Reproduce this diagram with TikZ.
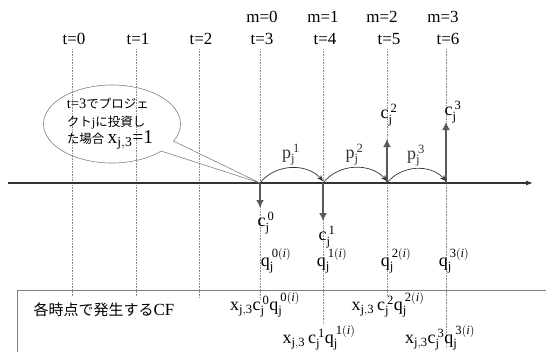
\documentclass[tikz,border=0pt]{standalone}
\usepackage{fontspec}
\setmainfont{LiberationSerif}[Extension=.ttf, UprightFont=*-Regular,
  ItalicFont=*-Italic, BoldFont=*-Bold, BoldItalicFont=*-BoldItalic]
\newfontfamily\jpfont{Noto Sans CJK JP}
\usetikzlibrary{positioning, arrows.meta, shapes.callouts}

\begin{document}
\begin{tikzpicture}[x=1pt, y=-1pt,
  lbl/.style={font=\fontsize{17}{19}\selectfont, inner sep=0pt},
  sym/.style={font=\fontsize{18}{20}\selectfont, inner sep=0pt},
  jp/.style={font=\fontsize{15}{17}\selectfont\jpfont, inner sep=0pt},
  guide/.style={densely dotted, black!45, line width=0.6pt},
  axis/.style={-{Latex[length=7pt, width=5pt]}, line width=1.1pt, black!80},
  flow/.style={-{Latex[length=8pt, width=8pt]}, line width=2.6pt, black!65},
  hop/.style={-{Stealth[length=6pt, width=5pt]}, line width=0.7pt, black!80, bend left=50},
  bubble/.style={ellipse callout, draw=black!50, line width=0.6pt,
    minimum width=137pt, minimum height=78pt, callout pointer arc=18}]

  \useasboundingbox (0,0) rectangle (546,351);

  % CF frame, cut by the page edge
  \begin{scope}
    \clip (0,0) rectangle (546,351);
    \draw[black!50, line width=1pt] (17,290) rectangle (560,370);
  \end{scope}

  % time points
  \coordinate (start) at (8,183);
  \coordinate (end) at (533,183);
  \foreach \i/\x/\yb in {0/72/297, 1/136/297, 2/199/298, 3/260/300,
                         4/323/323, 5/387/296, 6/446/347} {
    \coordinate (a\i) at (\x,183);
    \coordinate (top\i) at (\x,49);
    \coordinate (bot\i) at (\x,\yb);
    \node[lbl] (t\i) at (\x+2,39) {t=\i};
    \draw[guide] (top\i) -- (bot\i);
  }
  \foreach \m/\x in {0/262, 1/323, 2/382, 3/443}
    \node[lbl] (m\m) at (\x,17) {m=\m};

  \draw[axis] (start) -- (end);

  % cash flows
  \coordinate (d3) at (260,208);
  \coordinate (d4) at (323,221);
  \coordinate (u5) at (387,139);
  \coordinate (u6) at (446,122);
  \draw[flow] (a3) -- (d3);
  \draw[flow] (a4) -- (d4);
  \draw[flow] (a5) -- (u5);
  \draw[flow] (a6) -- (u6);

  \node[sym] (c0) at (266,223) {$\mathrm{c_j^{\,0}}$};
  \node[sym] (c1) at (327,237) {$\mathrm{c_j^{\,1}}$};
  \node[sym] (c2) at (389,115) {$\mathrm{c_j^{\,2}}$};
  \node[sym] (c3) at (453,112) {$\mathrm{c_j^{\,3}}$};

  \node[sym] (q0) at (276,261) {$\mathrm{q_j^{\,0(\mathit{i})}}$};
  \node[sym] (q1) at (332,261) {$\mathrm{q_j^{\,1(\mathit{i})}}$};
  \node[sym] (q2) at (396,261) {$\mathrm{q_j^{\,2(\mathit{i})}}$};
  \node[sym] (q3) at (454,261) {$\mathrm{q_j^{\,3(\mathit{i})}}$};

  % transition probabilities
  \draw[hop] (a3) to node[sym, above=2pt] (p1) {$\mathrm{p_j^{\,1}}$} ([yshift=2pt]a4);
  \draw[hop] (a4) to node[sym, above=2pt] (p2) {$\mathrm{p_j^{\,2}}$} ([yshift=2pt]a5);
  \draw[hop] (a5) to node[sym, above=2pt] (p3) {$\mathrm{p_j^{\,3}}$} ([yshift=2pt]a6);

  % investment note
  \node[bubble, callout absolute pointer={(a3)}] (note) at (112,124) {};
  \node[align=left, inner sep=0pt, font=\fontsize{12.5}{17.5}\selectfont] (notetxt) at ([xshift=-2pt]note.center)
    {{\fontsize{14.5}{17}\selectfont t=3}{\jpfont でプロジェ}\\
     {\jpfont クト}j{\jpfont に投資し}\\
     {\jpfont た場合} {\fontsize{19.5}{17}\selectfont x$_{\mathrm{j,3}}$=1}};

  % CF at each time point
  \node[jp] (cf) at (104,310) {各時点で発生する{\rmfamily\fontsize{17}{19}\selectfont CF}};
  \node[sym] (f0) at (265,305) {$\mathrm{x_{j,3}c_j^{\,0}q_j^{\,0(\mathit{i})}}$};
  \node[sym] (f2) at (388,305) {$\mathrm{x_{j,3}\,c_j^{\,2}q_j^{\,2(\mathit{i})}}$};
  \node[sym] (f1) at (319,338) {$\mathrm{x_{j,3}\,c_j^{\,1}q_j^{\,1(\mathit{i})}}$};
  \node[sym] (f3) at (440,338) {$\mathrm{x_{j,3}c_j^{\,3}q_j^{\,3(\mathit{i})}}$};
\end{tikzpicture}
\end{document}
